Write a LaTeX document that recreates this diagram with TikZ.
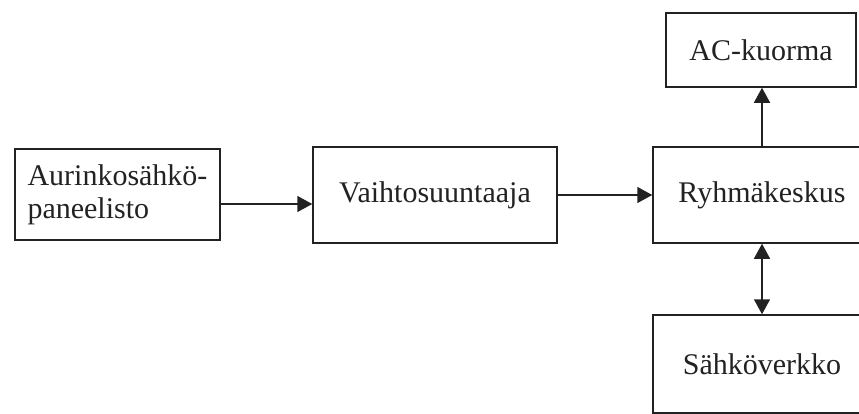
\documentclass[tikz,border=0pt]{standalone}
\usepackage{fontspec}
\setmainfont{Liberation Serif}
\usetikzlibrary{arrows.meta}
\definecolor{ink}{HTML}{222222}
\begin{document}
\begin{tikzpicture}[x=1pt,y=-1pt,
  blk/.style={draw=ink,line width=1.5pt,rectangle,inner sep=0pt,
    text=ink,font=\fontsize{30}{33}\selectfont},
  tip/.style={Triangle[length=15pt,width=16pt]},
  arr/.style={draw=ink,line width=1.5pt,-{Triangle[length=15pt,width=16pt]}},
  darr/.style={draw=ink,line width=1.5pt,{Triangle[length=15pt,width=16pt]}-{Triangle[length=15pt,width=16pt]}}]
  \clip (0,0) rectangle (859,413);
  \fill[white] (0,0) rectangle (859,413);
  % system blocks
  \node[blk,minimum width=205pt,minimum height=91pt,align=left] (pv) at (117.5,194.5)
    {Aurinkosähkö-\\paneelisto};
  \node[blk,minimum width=244pt,minimum height=96pt] (inv) at (435,195) {Vaihtosuuntaaja};
  \node[blk,minimum width=218pt,minimum height=96pt] (dist) at (762,195) {Ryhmäkeskus};
  \node[blk,minimum width=190pt,minimum height=74pt] (load) at (761,50) {AC-kuorma};
  \node[blk,minimum width=218pt,minimum height=98pt] (grid) at (762,364) {Sähköverkko};
  % power flow
  \draw[arr] ([yshift=-9.5pt]pv.east) -- ([yshift=-9.5pt]pv.east -| inv.west);
  \draw[arr] (inv.east) -- (dist.west);
  \draw[arr] (dist.north) -- (dist.north |- load.south);
  \draw[darr] (dist.south) -- (grid.north);
\end{tikzpicture}
\end{document}
